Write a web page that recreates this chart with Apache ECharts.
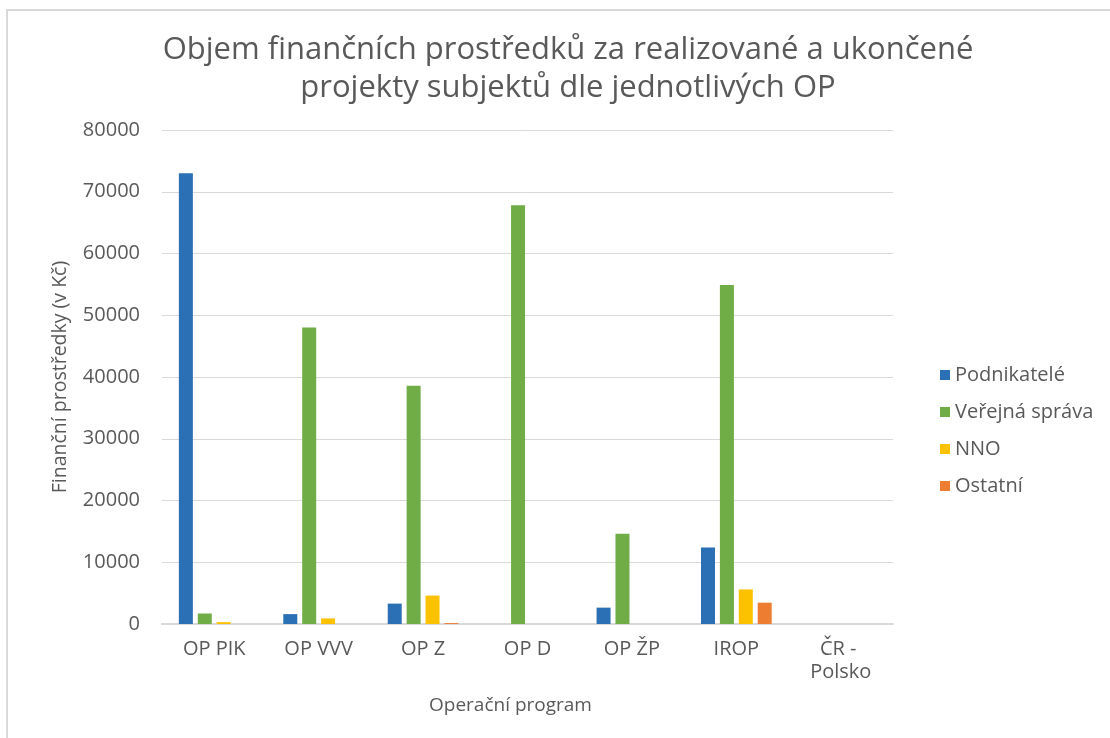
<!DOCTYPE html>
<html>
<head>
<meta charset="utf-8">
<script src="https://cdn.jsdelivr.net/npm/echarts@6/dist/echarts.min.js"></script>
<style>
  html, body { margin: 0; padding: 0; background: #fff; }
  #chart { width: 1110px; height: 738px; }
</style>
</head>
<body>
<div id="chart"></div>
<script>
const categories = ['OP PIK', 'OP VVV', 'OP Z', 'OP D', 'OP ŽP', 'IROP', 'ČR - Polsko']
const podnikatele = [73000, 1600, 3300, 0, 2650, 12400, 0]
const verejnaSprava = [1700, 48000, 38600, 67800, 14600, 54900, 0]
const nno = [300, 900, 4600, 0, 0, 5600, 0]
const ostatni = [0, 0, 150, 0, 0, 3450, 0]
const seriesNames = ['Podnikatelé', 'Veřejná správa', 'NNO', 'Ostatní']
const colors = ['#2b6fb4', '#70ad47', '#fcc200', '#ed7d31']

const font = '"Open Sans", "Noto Sans", sans-serif'
const textColor = '#595959'

const myChart = echarts.init(document.getElementById('chart'))

const makeBar = (name, data, color) => ({
  name: name,
  type: 'bar',
  data: data,
  barWidth: 14,
  barGap: '35%',
  itemStyle: { color: color },
})

const option = {
  animation: false,
  color: colors,
  textStyle: { fontFamily: font },
  graphic: [
    {
      type: 'rect',
      shape: { x: 7, y: 10, width: 1200, height: 800 },
      style: { fill: 'none', stroke: '#d9d9d9', lineWidth: 2 },
    },
  ],
  title: {
    text: 'Objem finančních prostředků za realizované a ukončené\nprojekty subjektů dle jednotlivých OP',
    left: 563,
    textAlign: 'center',
    top: 26,
    textStyle: {
      fontFamily: font,
      fontSize: 31,
      fontWeight: 'normal',
      color: textColor,
      lineHeight: 38,
    },
  },
  legend: {
    orient: 'vertical',
    left: 935,
    top: 360,
    icon: 'rect',
    itemWidth: 10,
    itemHeight: 10,
    itemGap: 17,
    data: seriesNames,
    textStyle: { fontFamily: font, fontSize: 20, color: textColor, lineHeight: 20 },
  },
  grid: {
    left: 162,
    right: 217,
    top: 130,
    bottom: 114,
    containLabel: false,
  },
  xAxis: {
    type: 'category',
    data: categories,
    name: 'Operační program',
    nameLocation: 'middle',
    nameGap: 72,
    nameTextStyle: { fontFamily: font, fontSize: 19, color: textColor, padding: [0, 34, 0, 0] },
    axisLine: { lineStyle: { color: '#d9d9d9', width: 2 } },
    axisTick: { show: false },
    axisLabel: {
      fontFamily: font,
      fontSize: 20,
      color: textColor,
      margin: 14,
      lineHeight: 23,
      width: 85,
      overflow: 'break',
      interval: 0,
    },
  },
  yAxis: {
    type: 'value',
    min: 0,
    max: 80000,
    interval: 10000,
    name: 'Finanční prostředky (v Kč)',
    nameLocation: 'middle',
    nameGap: 92,
    nameTextStyle: { fontFamily: font, fontSize: 19.5, color: textColor },
    axisLine: { show: false },
    axisTick: { show: false },
    axisLabel: {
      fontFamily: font,
      fontSize: 20,
      color: textColor,
      margin: 22,
      formatter: (v) => String(v),
    },
    splitLine: { lineStyle: { color: '#d9d9d9', width: 1 } },
  },
  series: [
    makeBar(seriesNames[0], podnikatele, colors[0]),
    makeBar(seriesNames[1], verejnaSprava, colors[1]),
    makeBar(seriesNames[2], nno, colors[2]),
    makeBar(seriesNames[3], ostatni, colors[3]),
  ],
}

myChart.setOption(option)
</script>
</body>
</html>
